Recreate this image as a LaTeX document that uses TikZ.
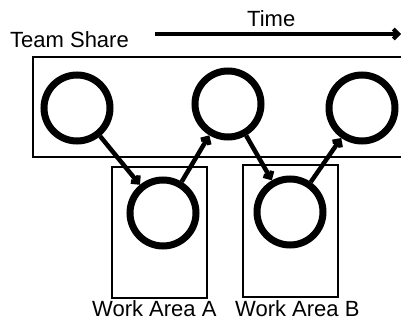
\documentclass[tikz,border=0pt]{standalone}
\usepackage{fontspec}
\setmainfont{Liberation Sans}
\usetikzlibrary{arrows.meta}
\begin{document}
\begin{tikzpicture}[x=1pt,y=-1pt,
  lbl/.style={font=\fontsize{22}{24}\selectfont, inner sep=0pt, anchor=base west},
  box/.style={draw, line width=1.2pt},
  ring/.style={circle, draw, line width=7pt, minimum size=66pt, inner sep=0pt},
  flow/.style={line width=4.5pt, -{Straight Barb[angle=90:7pt]}}]
\useasboundingbox (0,0) rectangle (401,321);
\draw[box] (33,57) rectangle (405,157);
\draw[box] (112,167) rectangle (207,298);
\draw[box] (243,165) rectangle (338,297);
\node[ring] (c1) at (77,108) {};
\node[ring] (c2) at (228,104) {};
\node[ring] (c3) at (362,108) {};
\node[ring] (a) at (163,213) {};
\node[ring] (b) at (290,212) {};
\draw[flow] (c1) -- (a);
\draw[flow] (a) -- (c2);
\draw[flow] (c2) -- (b);
\draw[flow] (b) -- (c3);
\node[lbl] (ts) at (10,48) {Team Share};
\node[lbl] (tm) at (247,27) {Time};
\node[lbl] (wa) at (92,316) {Work Area A};
\node[lbl] (wb) at (235,316) {Work Area B};
\coordinate (t0) at (155,34);
\coordinate (t1) at (401,34);
\draw[line width=4pt, -{Straight Barb[angle=90:7pt]}] (t0) -- (t1);
\end{tikzpicture}
\end{document}
